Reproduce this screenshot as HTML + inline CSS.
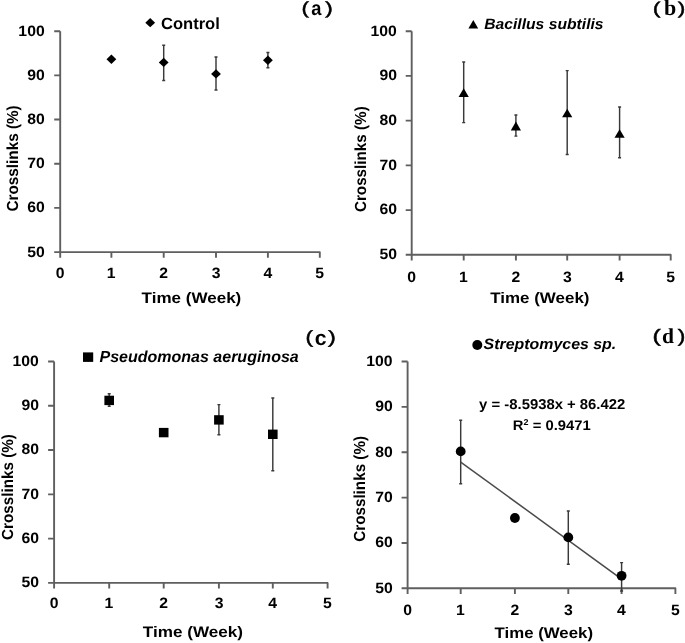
<!DOCTYPE html>
<html><head><meta charset="utf-8"><title>Crosslinks charts</title>
<style>html,body{margin:0;padding:0;background:#fff;}svg{display:block;will-change:transform;}</style></head>
<body><svg width="685" height="643" viewBox="0 0 685 643" text-rendering="geometricPrecision">
<rect width="685" height="643" fill="#fff"/>
<path d="M60.20 31.20V257.70M54.20 252.10H319.80V257.70M54.20 207.92H60.20M54.20 163.74H60.20M54.20 119.56H60.20M54.20 75.38H60.20M54.20 31.20H60.20M111.40 252.10V257.70M163.70 252.10V257.70M216.00 252.10V257.70M267.90 252.10V257.70" stroke="#5f5f5f" stroke-width="1.9" stroke-linejoin="round" fill="none"/>
<path d="M411.70 31.20V260.40M405.70 254.80H670.70V260.40M405.70 210.08H411.70M405.70 165.36H411.70M405.70 120.64H411.70M405.70 75.92H411.70M405.70 31.20H411.70M463.70 254.80V260.40M515.90 254.80V260.40M567.20 254.80V260.40M619.60 254.80V260.40" stroke="#5f5f5f" stroke-width="1.9" stroke-linejoin="round" fill="none"/>
<path d="M54.10 361.50V588.50M48.10 582.90H327.60V588.50M48.10 538.62H54.10M48.10 494.34H54.10M48.10 450.06H54.10M48.10 405.78H54.10M48.10 361.50H54.10M109.20 582.90V588.50M163.70 582.90V588.50M218.90 582.90V588.50M272.80 582.90V588.50" stroke="#5f5f5f" stroke-width="1.9" stroke-linejoin="round" fill="none"/>
<path d="M407.60 361.50V593.90M401.60 588.30H675.40V593.90M401.60 542.94H407.60M401.60 497.58H407.60M401.60 452.22H407.60M401.60 406.86H407.60M401.60 361.50H407.60M460.70 588.30V593.90M514.90 588.30V593.90M568.30 588.30V593.90M621.60 588.30V593.90" stroke="#5f5f5f" stroke-width="1.9" stroke-linejoin="round" fill="none"/>
<path d="M163.70 45.30V80.50M162.20 45.30h3M162.20 80.50h3M216.00 57.00V89.90M214.50 57.00h3M214.50 89.90h3M267.90 52.50V67.70M266.40 52.50h3M266.40 67.70h3" stroke="#3a3a3a" stroke-width="1.45" fill="none"/>
<path d="M111.40 54.60L116.30 59.30L111.40 64.00L106.50 59.30Z" fill="#000"/>
<path d="M163.70 57.70L168.60 62.40L163.70 67.10L158.80 62.40Z" fill="#000"/>
<path d="M216.00 69.20L220.90 73.90L216.00 78.60L211.10 73.90Z" fill="#000"/>
<path d="M267.90 55.60L272.80 60.30L267.90 65.00L263.00 60.30Z" fill="#000"/>
<path d="M150.2 18.1L155.1 22.7L150.2 27.3L145.3 22.7Z" fill="#000"/>
<path d="M463.70 62.00V122.60M462.20 62.00h3M462.20 122.60h3M515.90 115.00V136.10M514.40 115.00h3M514.40 136.10h3M567.20 70.60V154.40M565.70 70.60h3M565.70 154.40h3M619.60 107.00V157.80M618.10 107.00h3M618.10 157.80h3" stroke="#3a3a3a" stroke-width="1.45" fill="none"/>
<path d="M463.70 88.20L468.80 97.00H458.60Z" fill="#000"/>
<path d="M515.90 121.50L521.00 130.60H510.80Z" fill="#000"/>
<path d="M567.20 108.70L572.30 117.30H562.10Z" fill="#000"/>
<path d="M619.60 129.20L624.70 137.80H614.50Z" fill="#000"/>
<path d="M473.3 19.9L478.2 28.5H468.4Z" fill="#000"/>
<path d="M109.20 393.80V406.30M107.70 393.80h3M107.70 406.30h3M218.90 404.60V434.80M217.40 404.60h3M217.40 434.80h3M272.80 398.00V470.70M271.30 398.00h3M271.30 470.70h3" stroke="#3a3a3a" stroke-width="1.45" fill="none"/>
<rect x="104.40" y="395.70" width="9.6" height="9.4" fill="#000"/>
<rect x="158.90" y="427.90" width="9.6" height="9.4" fill="#000"/>
<rect x="214.10" y="415.20" width="9.6" height="9.4" fill="#000"/>
<rect x="268.00" y="429.60" width="9.6" height="9.4" fill="#000"/>
<rect x="83" y="352.4" width="10.2" height="9.5" fill="#000"/>
<path d="M460.70 420.30V483.80M459.20 420.30h3M459.20 483.80h3M568.30 511.00V564.20M566.80 511.00h3M566.80 564.20h3M621.60 562.60V591.00M620.10 562.60h3M620.10 591.00h3" stroke="#3a3a3a" stroke-width="1.45" fill="none"/>
<path d="M460.70 462.07L621.60 579.02" stroke="#4a4a4a" stroke-width="1.5" fill="none"/>
<circle cx="460.70" cy="451.40" r="4.9" fill="#000"/>
<circle cx="514.90" cy="518.00" r="4.9" fill="#000"/>
<circle cx="568.30" cy="537.40" r="4.9" fill="#000"/>
<circle cx="621.60" cy="575.80" r="4.9" fill="#000"/>
<circle cx="477.3" cy="345.0" r="5.0" fill="#000"/>
<g fill="#000">
<text x="27.30" y="256.50" font-family="Liberation Sans" font-weight="bold" font-size="15.0" textLength="17.52" lengthAdjust="spacingAndGlyphs">50</text>
<text x="27.30" y="212.32" font-family="Liberation Sans" font-weight="bold" font-size="15.0" textLength="17.52" lengthAdjust="spacingAndGlyphs">60</text>
<text x="27.30" y="168.14" font-family="Liberation Sans" font-weight="bold" font-size="15.0" textLength="17.52" lengthAdjust="spacingAndGlyphs">70</text>
<text x="27.30" y="123.96" font-family="Liberation Sans" font-weight="bold" font-size="15.0" textLength="17.52" lengthAdjust="spacingAndGlyphs">80</text>
<text x="27.30" y="79.78" font-family="Liberation Sans" font-weight="bold" font-size="15.0" textLength="17.52" lengthAdjust="spacingAndGlyphs">90</text>
<text x="18.38" y="35.60" font-family="Liberation Sans" font-weight="bold" font-size="15.0" textLength="26.28" lengthAdjust="spacingAndGlyphs">100</text>
<text x="55.87" y="277.70" font-family="Liberation Sans" font-weight="bold" font-size="15.0" textLength="8.76" lengthAdjust="spacingAndGlyphs">0</text>
<text x="106.68" y="277.70" font-family="Liberation Sans" font-weight="bold" font-size="15.0" textLength="8.76" lengthAdjust="spacingAndGlyphs">1</text>
<text x="159.37" y="277.70" font-family="Liberation Sans" font-weight="bold" font-size="15.0" textLength="8.76" lengthAdjust="spacingAndGlyphs">2</text>
<text x="211.80" y="277.70" font-family="Liberation Sans" font-weight="bold" font-size="15.0" textLength="8.76" lengthAdjust="spacingAndGlyphs">3</text>
<text x="263.44" y="277.70" font-family="Liberation Sans" font-weight="bold" font-size="15.0" textLength="8.76" lengthAdjust="spacingAndGlyphs">4</text>
<text x="315.34" y="277.70" font-family="Liberation Sans" font-weight="bold" font-size="15.0" textLength="8.76" lengthAdjust="spacingAndGlyphs">5</text>
<text x="379.40" y="259.20" font-family="Liberation Sans" font-weight="bold" font-size="15.0" textLength="17.52" lengthAdjust="spacingAndGlyphs">50</text>
<text x="379.40" y="214.48" font-family="Liberation Sans" font-weight="bold" font-size="15.0" textLength="17.52" lengthAdjust="spacingAndGlyphs">60</text>
<text x="379.40" y="169.76" font-family="Liberation Sans" font-weight="bold" font-size="15.0" textLength="17.52" lengthAdjust="spacingAndGlyphs">70</text>
<text x="379.40" y="125.04" font-family="Liberation Sans" font-weight="bold" font-size="15.0" textLength="17.52" lengthAdjust="spacingAndGlyphs">80</text>
<text x="379.40" y="80.32" font-family="Liberation Sans" font-weight="bold" font-size="15.0" textLength="17.52" lengthAdjust="spacingAndGlyphs">90</text>
<text x="370.47" y="35.60" font-family="Liberation Sans" font-weight="bold" font-size="15.0" textLength="26.28" lengthAdjust="spacingAndGlyphs">100</text>
<text x="407.37" y="281.60" font-family="Liberation Sans" font-weight="bold" font-size="15.0" textLength="8.76" lengthAdjust="spacingAndGlyphs">0</text>
<text x="458.97" y="281.60" font-family="Liberation Sans" font-weight="bold" font-size="15.0" textLength="8.76" lengthAdjust="spacingAndGlyphs">1</text>
<text x="511.57" y="281.60" font-family="Liberation Sans" font-weight="bold" font-size="15.0" textLength="8.76" lengthAdjust="spacingAndGlyphs">2</text>
<text x="563.00" y="281.60" font-family="Liberation Sans" font-weight="bold" font-size="15.0" textLength="8.76" lengthAdjust="spacingAndGlyphs">3</text>
<text x="615.14" y="281.60" font-family="Liberation Sans" font-weight="bold" font-size="15.0" textLength="8.76" lengthAdjust="spacingAndGlyphs">4</text>
<text x="666.24" y="281.60" font-family="Liberation Sans" font-weight="bold" font-size="15.0" textLength="8.76" lengthAdjust="spacingAndGlyphs">5</text>
<text x="21.50" y="587.30" font-family="Liberation Sans" font-weight="bold" font-size="15.0" textLength="17.52" lengthAdjust="spacingAndGlyphs">50</text>
<text x="21.50" y="543.02" font-family="Liberation Sans" font-weight="bold" font-size="15.0" textLength="17.52" lengthAdjust="spacingAndGlyphs">60</text>
<text x="21.50" y="498.74" font-family="Liberation Sans" font-weight="bold" font-size="15.0" textLength="17.52" lengthAdjust="spacingAndGlyphs">70</text>
<text x="21.50" y="454.46" font-family="Liberation Sans" font-weight="bold" font-size="15.0" textLength="17.52" lengthAdjust="spacingAndGlyphs">80</text>
<text x="21.50" y="410.18" font-family="Liberation Sans" font-weight="bold" font-size="15.0" textLength="17.52" lengthAdjust="spacingAndGlyphs">90</text>
<text x="12.57" y="365.90" font-family="Liberation Sans" font-weight="bold" font-size="15.0" textLength="26.28" lengthAdjust="spacingAndGlyphs">100</text>
<text x="49.77" y="608.40" font-family="Liberation Sans" font-weight="bold" font-size="15.0" textLength="8.76" lengthAdjust="spacingAndGlyphs">0</text>
<text x="104.48" y="608.40" font-family="Liberation Sans" font-weight="bold" font-size="15.0" textLength="8.76" lengthAdjust="spacingAndGlyphs">1</text>
<text x="159.37" y="608.40" font-family="Liberation Sans" font-weight="bold" font-size="15.0" textLength="8.76" lengthAdjust="spacingAndGlyphs">2</text>
<text x="214.70" y="608.40" font-family="Liberation Sans" font-weight="bold" font-size="15.0" textLength="8.76" lengthAdjust="spacingAndGlyphs">3</text>
<text x="268.34" y="608.40" font-family="Liberation Sans" font-weight="bold" font-size="15.0" textLength="8.76" lengthAdjust="spacingAndGlyphs">4</text>
<text x="323.14" y="608.40" font-family="Liberation Sans" font-weight="bold" font-size="15.0" textLength="8.76" lengthAdjust="spacingAndGlyphs">5</text>
<text x="375.20" y="592.70" font-family="Liberation Sans" font-weight="bold" font-size="15.0" textLength="17.52" lengthAdjust="spacingAndGlyphs">50</text>
<text x="375.20" y="547.34" font-family="Liberation Sans" font-weight="bold" font-size="15.0" textLength="17.52" lengthAdjust="spacingAndGlyphs">60</text>
<text x="375.20" y="501.98" font-family="Liberation Sans" font-weight="bold" font-size="15.0" textLength="17.52" lengthAdjust="spacingAndGlyphs">70</text>
<text x="375.20" y="456.62" font-family="Liberation Sans" font-weight="bold" font-size="15.0" textLength="17.52" lengthAdjust="spacingAndGlyphs">80</text>
<text x="375.20" y="411.26" font-family="Liberation Sans" font-weight="bold" font-size="15.0" textLength="17.52" lengthAdjust="spacingAndGlyphs">90</text>
<text x="366.27" y="365.90" font-family="Liberation Sans" font-weight="bold" font-size="15.0" textLength="26.28" lengthAdjust="spacingAndGlyphs">100</text>
<text x="403.27" y="615.30" font-family="Liberation Sans" font-weight="bold" font-size="15.0" textLength="8.76" lengthAdjust="spacingAndGlyphs">0</text>
<text x="455.97" y="615.30" font-family="Liberation Sans" font-weight="bold" font-size="15.0" textLength="8.76" lengthAdjust="spacingAndGlyphs">1</text>
<text x="510.57" y="615.30" font-family="Liberation Sans" font-weight="bold" font-size="15.0" textLength="8.76" lengthAdjust="spacingAndGlyphs">2</text>
<text x="564.10" y="615.30" font-family="Liberation Sans" font-weight="bold" font-size="15.0" textLength="8.76" lengthAdjust="spacingAndGlyphs">3</text>
<text x="617.14" y="615.30" font-family="Liberation Sans" font-weight="bold" font-size="15.0" textLength="8.76" lengthAdjust="spacingAndGlyphs">4</text>
<text x="670.94" y="615.30" font-family="Liberation Sans" font-weight="bold" font-size="15.0" textLength="8.76" lengthAdjust="spacingAndGlyphs">5</text>
<text x="141.62" y="302.90" font-family="Liberation Sans" font-weight="bold" font-size="15.3" textLength="99.68" lengthAdjust="spacingAndGlyphs">Time (Week)</text>
<text x="490.22" y="302.80" font-family="Liberation Sans" font-weight="bold" font-size="15.3" textLength="99.28" lengthAdjust="spacingAndGlyphs">Time (Week)</text>
<text x="142.82" y="636.80" font-family="Liberation Sans" font-weight="bold" font-size="15.3" textLength="100.19" lengthAdjust="spacingAndGlyphs">Time (Week)</text>
<text x="494.63" y="638.40" font-family="Liberation Sans" font-weight="bold" font-size="15.3" textLength="98.37" lengthAdjust="spacingAndGlyphs">Time (Week)</text>
<text x="0.00" y="0.00" transform="translate(17.60 211.52) rotate(-90)" font-family="Liberation Sans" font-weight="bold" font-size="16" textLength="106.17" lengthAdjust="spacingAndGlyphs">Crosslinks (%)</text>
<text x="0.00" y="0.00" transform="translate(366.20 212.11) rotate(-90)" font-family="Liberation Sans" font-weight="bold" font-size="16" textLength="105.86" lengthAdjust="spacingAndGlyphs">Crosslinks (%)</text>
<text x="0.00" y="0.00" transform="translate(13.40 539.91) rotate(-90)" font-family="Liberation Sans" font-weight="bold" font-size="16" textLength="105.76" lengthAdjust="spacingAndGlyphs">Crosslinks (%)</text>
<text x="0.00" y="0.00" transform="translate(364.70 541.81) rotate(-90)" font-family="Liberation Sans" font-weight="bold" font-size="16" textLength="105.86" lengthAdjust="spacingAndGlyphs">Crosslinks (%)</text>
<text x="160.93" y="28.70" font-family="Liberation Sans" font-weight="bold" font-size="16.2" textLength="58.94" lengthAdjust="spacingAndGlyphs">Control</text>
<text x="484.24" y="28.50" font-family="Liberation Sans" font-weight="bold" font-style="italic" font-size="15" textLength="119.33" lengthAdjust="spacingAndGlyphs">Bacillus subtilis</text>
<text x="99.55" y="361.60" font-family="Liberation Sans" font-weight="bold" font-style="italic" font-size="16" textLength="199.17" lengthAdjust="spacingAndGlyphs">Pseudomonas aeruginosa</text>
<text x="483.63" y="349.30" font-family="Liberation Sans" font-weight="bold" font-style="italic" font-size="15" textLength="132.64" lengthAdjust="spacingAndGlyphs">Streptomyces sp.</text>
<text x="301.44" y="14.24" font-family="Liberation Sans" font-weight="normal" stroke="#000" stroke-width="0.45" font-size="17.447" textLength="7.56" lengthAdjust="spacingAndGlyphs">(</text>
<text x="311.25" y="15.40" font-family="Liberation Sans" font-weight="bold" font-size="20.0" textLength="10.18" lengthAdjust="spacingAndGlyphs">a</text>
<text x="325.07" y="14.24" font-family="Liberation Sans" font-weight="normal" stroke="#000" stroke-width="0.45" font-size="17.447" textLength="7.82" lengthAdjust="spacingAndGlyphs">)</text>
<text x="652.69" y="14.30" font-family="Liberation Sans" font-weight="normal" stroke="#000" stroke-width="0.45" font-size="17.128" textLength="7.82" lengthAdjust="spacingAndGlyphs">(</text>
<text x="663.88" y="15.38" font-family="Liberation Serif" font-weight="bold" font-size="21.972" textLength="12.22" lengthAdjust="spacingAndGlyphs">b</text>
<text x="677.87" y="14.30" font-family="Liberation Sans" font-weight="normal" stroke="#000" stroke-width="0.45" font-size="17.128" textLength="7.56" lengthAdjust="spacingAndGlyphs">)</text>
<text x="305.44" y="343.49" font-family="Liberation Sans" font-weight="normal" stroke="#000" stroke-width="0.45" font-size="17.66" textLength="7.56" lengthAdjust="spacingAndGlyphs">(</text>
<text x="314.65" y="344.89" font-family="Liberation Sans" font-weight="bold" font-size="20.909" textLength="11.82" lengthAdjust="spacingAndGlyphs">c</text>
<text x="328.07" y="343.49" font-family="Liberation Sans" font-weight="normal" stroke="#000" stroke-width="0.45" font-size="17.66" textLength="7.82" lengthAdjust="spacingAndGlyphs">)</text>
<text x="652.62" y="341.92" font-family="Liberation Sans" font-weight="normal" stroke="#000" stroke-width="0.45" font-size="17.979" textLength="8.20" lengthAdjust="spacingAndGlyphs">(</text>
<text x="662.14" y="343.19" font-family="Liberation Serif" font-weight="bold" font-size="21.268" textLength="12.00" lengthAdjust="spacingAndGlyphs">d</text>
<text x="677.87" y="341.92" font-family="Liberation Sans" font-weight="normal" stroke="#000" stroke-width="0.45" font-size="17.979" textLength="7.56" lengthAdjust="spacingAndGlyphs">)</text>
<text x="479.14" y="409.00" font-family="Liberation Sans" font-weight="bold" font-size="14.2" textLength="146.13" lengthAdjust="spacingAndGlyphs">y = -8.5938x + 86.422</text>
<text x="512.88" y="429.50" font-family="Liberation Sans" font-weight="bold" font-size="14" textLength="77.84" lengthAdjust="spacingAndGlyphs">R<tspan dy="-4.8" font-size="8.5">2</tspan><tspan dy="4.8"> = 0.9471</tspan></text>
</g>
</svg></body></html>
